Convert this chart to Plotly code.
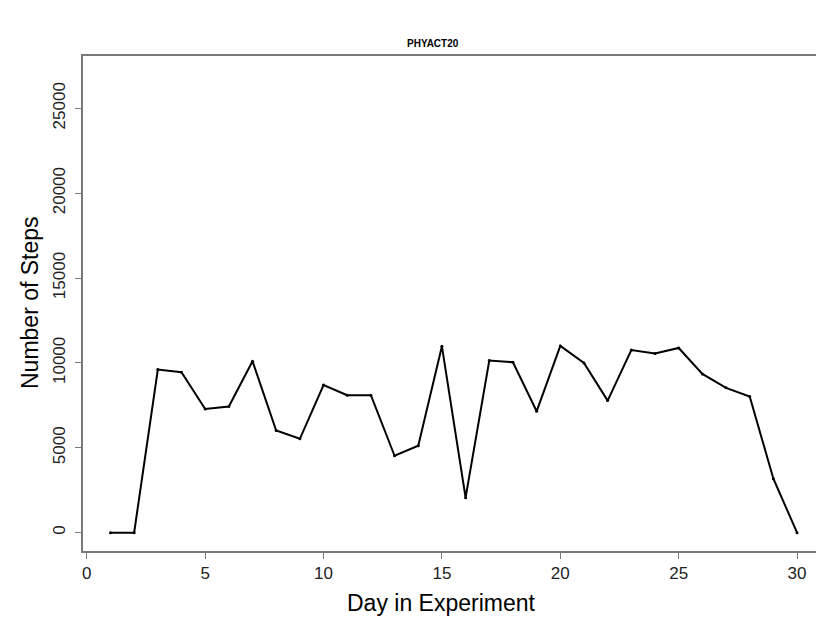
import plotly.graph_objects as go

days = list(range(1, 31))
steps = [0, 0, 9610, 9450, 7290, 7430, 10100, 6020, 5530, 8700,
         8100, 8100, 4530, 5120, 10980, 2060, 10140, 10040, 7150, 11000,
         10000, 7780, 10760, 10560, 10880, 9350, 8530, 8020, 3180, 0]

x_ticks = [0, 5, 10, 15, 20, 25, 30]
y_ticks = [0, 5000, 10000, 15000, 20000, 25000]

title_text = "PHYACT20"
x_title = "Day in Experiment"
y_title = "Number of Steps"

FONT = "Liberation Sans, Arial, sans-serif"
AX = "#7a7a7a"

W, H = 816, 617
pl, pr, pt, pb = 83, 816, 56, 551


def px_to_paper(px, py):
    return (px - pl) / (pr - pl), (pb - py) / (pb - pt)


fig = go.Figure()
fig.add_trace(go.Scatter(
    x=days, y=steps, mode="lines+markers",
    line=dict(color="black", width=2),
    marker=dict(color="black", size=3),
    showlegend=False, hoverinfo="x+y"))

tx, ty = px_to_paper(433, 43)
ax_, ay_ = px_to_paper(441, 603)
bx, by = px_to_paper(30, 303)

fig.update_layout(
    width=W, height=H,
    margin=dict(l=pl, r=W - pr, t=pt, b=H - pb, autoexpand=False),
    paper_bgcolor="white", plot_bgcolor="white",
    font=dict(family=FONT, color="#222"),
    xaxis=dict(range=[-0.16, 30.8], tickvals=x_ticks, ticktext=[str(v) for v in x_ticks],
               showgrid=False, zeroline=False, showline=True, linecolor=AX, linewidth=2,
               mirror=True, ticks="outside", ticklen=6, tickcolor=AX, tickwidth=1,
               automargin=False,
               tickfont=dict(size=17, color="#222", family=FONT)),
    yaxis=dict(range=[-1080, 28080], tickvals=y_ticks, ticktext=[str(v) for v in y_ticks],
               showgrid=False, zeroline=False, showline=True, linecolor=AX, linewidth=2,
               ticks="outside", ticklen=6, tickcolor=AX, tickwidth=1, tickangle=-90,
               automargin=False, ticklabelstandoff=3,
               tickfont=dict(size=17, color="#222", family=FONT)),
    annotations=[
        dict(text="<b>%s</b>" % title_text, x=tx, y=ty, xref="paper", yref="paper",
             xanchor="center", yanchor="middle", showarrow=False,
             font=dict(size=10, color="black", family=FONT)),
        dict(text=x_title, x=ax_, y=ay_, xref="paper", yref="paper",
             xanchor="center", yanchor="middle", showarrow=False,
             font=dict(size=23, color="black", family=FONT)),
        dict(text=y_title, x=bx, y=by, xref="paper", yref="paper",
             xanchor="center", yanchor="middle", showarrow=False, textangle=-90,
             font=dict(size=23, color="black", family=FONT)),
    ],
)

fig.write_html("out.html", config={"displayModeBar": False},
               post_script="document.body.style.margin='0';document.body.style.overflow='hidden';")
